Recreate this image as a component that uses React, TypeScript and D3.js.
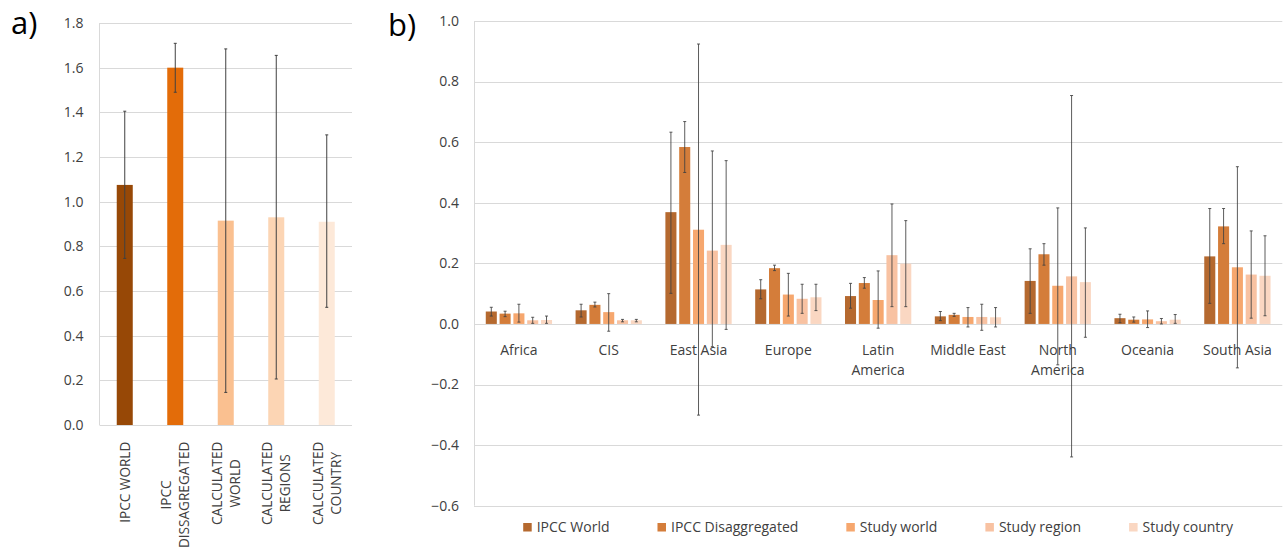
import { useRef, useEffect } from 'react';
import * as d3 from 'd3';

// panel a) global values
const aCategories = ['IPCC WORLD', 'IPCC DISSAGREGATED', 'CALCULATED WORLD', 'CALCULATED REGIONS', 'CALCULATED COUNTRY'];
const aLabelLines = [['IPCC WORLD'], ['IPCC', 'DISSAGREGATED'], ['CALCULATED', 'WORLD'], ['CALCULATED', 'REGIONS'], ['CALCULATED', 'COUNTRY']];
const aValues = [1.075, 1.6, 0.915, 0.93, 0.91];
const aLow = [0.746, 1.49, 0.146, 0.206, 0.527];
const aHigh = [1.405, 1.709, 1.684, 1.655, 1.299];
const aColors = ['#974806', '#E36C09', '#FAC090', '#FCD5B4', '#FDE9D9'];
const aTicks = [0, 0.2, 0.4, 0.6, 0.8, 1.0, 1.2, 1.4, 1.6, 1.8];

// panel b) by region
const regions = ['Africa', 'CIS', 'East Asia', 'Europe', 'Latin America', 'Middle East', 'North America', 'Oceania', 'South Asia'];
const regionLines = [['Africa'], ['CIS'], ['East Asia'], ['Europe'], ['Latin', 'America'], ['Middle East'], ['North', 'America'], ['Oceania'], ['South Asia']];
const seriesNames = ['IPCC World', 'IPCC Disaggregated', 'Study world', 'Study region', 'Study country'];
const seriesColors = ['#B5692F', '#D47D3A', '#F6A76E', '#F8C2A2', '#FAD7C2'];

const ipccWorld = [0.041, 0.045, 0.369, 0.114, 0.092, 0.025, 0.142, 0.019, 0.223];
const ipccWorldLow = [0.026, 0.023, 0.101, 0.083, 0.052, 0.011, 0.035, 0.004, 0.068];
const ipccWorldHigh = [0.055, 0.065, 0.633, 0.146, 0.134, 0.041, 0.248, 0.032, 0.381];

const ipccDisagg = [0.034, 0.063, 0.584, 0.184, 0.135, 0.03, 0.23, 0.014, 0.322];
const ipccDisaggLow = [0.024, 0.056, 0.5, 0.176, 0.118, 0.025, 0.194, 0.006, 0.265];
const ipccDisaggHigh = [0.042, 0.072, 0.668, 0.194, 0.153, 0.035, 0.265, 0.023, 0.381];

const studyWorld = [0.035, 0.039, 0.311, 0.097, 0.079, 0.023, 0.126, 0.015, 0.187];
const studyWorldLow = [0.006, -0.024, -0.301, 0.026, -0.014, -0.01, -0.135, -0.012, -0.145];
const studyWorldHigh = [0.065, 0.1, 0.924, 0.167, 0.175, 0.054, 0.383, 0.043, 0.519];

const studyRegion = [0.012, 0.012, 0.242, 0.083, 0.227, 0.023, 0.157, 0.009, 0.163];
const studyRegionLow = [0.002, 0.007, -0.075, 0.035, 0.057, -0.021, -0.439, 0.0, 0.019];
const studyRegionHigh = [0.022, 0.015, 0.571, 0.131, 0.396, 0.065, 0.754, 0.018, 0.307];

const studyCountry = [0.013, 0.012, 0.261, 0.088, 0.199, 0.022, 0.138, 0.014, 0.159];
const studyCountryLow = [0.002, 0.007, -0.018, 0.044, 0.057, -0.01, -0.044, 0.002, 0.027];
const studyCountryHigh = [0.026, 0.015, 0.539, 0.131, 0.341, 0.054, 0.317, 0.031, 0.291];

const bTicks = [-0.6, -0.4, -0.2, 0, 0.2, 0.4, 0.6, 0.8, 1.0];

const FONT = '"Open Sans", sans-serif';
const GRID = '#D9D9D9';
const TEXT = '#404040';
const ERR = '#404040';
const FS = 14;

export default function App() {
  const svgRef = useRef<SVGSVGElement | null>(null);

  useEffect(() => {
    if (!svgRef.current) return;
    const svg = d3.select(svgRef.current);
    svg.selectAll('*').remove();

    const crisp = (v: number) => Math.round(v) + 0.5;

    // ---------- panel a ----------
    const yA = d3.scaleLinear().domain([0, 1.8]).range([425, 23]);
    const xA = d3.scaleBand<string>().domain(aCategories).range([99.5, 352])
      .paddingInner(0.683).paddingOuter(0.3415);

    const ga = svg.append('g');
    ga.append('text').attr('x', 11).attr('y', 34).attr('font-size', 31)
      .attr('font-family', FONT).attr('fill', '#000').text('a)');

    ga.selectAll('.grid').data(aTicks).join('line')
      .attr('x1', 99.5).attr('x2', 352)
      .attr('y1', d => crisp(yA(d))).attr('y2', d => crisp(yA(d)))
      .attr('stroke', GRID).attr('stroke-width', 1);
    ga.append('line').attr('x1', 99.5).attr('x2', 99.5).attr('y1', yA(1.8)).attr('y2', yA(0))
      .attr('stroke', GRID);

    ga.selectAll('.tick').data(aTicks).join('text')
      .attr('x', 83.5).attr('y', d => yA(d)).attr('dy', '0.35em')
      .attr('text-anchor', 'end').attr('font-size', FS).attr('font-family', FONT)
      .attr('fill', TEXT).text(d => d3.format('.1f')(d));

    ga.selectAll('.bar').data(aCategories).join('rect')
      .attr('x', d => xA(d)!).attr('width', xA.bandwidth())
      .attr('y', (d, i) => yA(aValues[i])).attr('height', (d, i) => yA(0) - yA(aValues[i]))
      .attr('fill', (d, i) => aColors[i]);

    aCategories.forEach((c, i) => {
      const cx = xA(c)! + xA.bandwidth() / 2;
      ga.append('line').attr('x1', cx).attr('x2', cx)
        .attr('y1', yA(aLow[i])).attr('y2', yA(aHigh[i]))
        .attr('stroke', ERR).attr('stroke-width', 1);
      [aLow[i], aHigh[i]].forEach(v => {
        ga.append('line').attr('x1', cx - 1.5).attr('x2', cx + 1.5)
          .attr('y1', yA(v)).attr('y2', yA(v)).attr('stroke', ERR).attr('stroke-width', 1);
      });

      // rotated category label, top aligned at the longest line
      const lines = aLabelLines[i];
      const lg = ga.append('g').attr('transform', `translate(${cx},0) rotate(-90)`);
      const texts = lines.map((ln, j) => lg.append('text')
        .attr('x', 0).attr('y', (j - (lines.length - 1) / 2) * 18)
        .attr('dy', '0.35em').attr('text-anchor', 'middle')
        .attr('font-size', 13.6).attr('font-family', FONT).attr('fill', TEXT).text(ln));
      const maxLen = d3.max(texts, t => (t.node() as SVGTextElement).getComputedTextLength()) || 0;
      const centerY = 441.7 + maxLen / 2;
      texts.forEach(t => t.attr('x', -centerY));
    });

    // ---------- panel b ----------
    const yB = d3.scaleLinear().domain([-0.6, 1.0]).range([505.7, 21]);
    const xB = d3.scaleBand<string>().domain(regions).range([474, 1282.3]);
    const groupW = xB.bandwidth() * 0.738;
    const x1 = d3.scaleBand<string>().domain(seriesNames).range([0, groupW]).paddingInner(0.2);
    const off = (xB.bandwidth() - groupW) / 2;

    const gb = svg.append('g');
    gb.append('text').attr('x', 388).attr('y', 36).attr('font-size', 31)
      .attr('font-family', FONT).attr('fill', '#000').text('b)');

    gb.selectAll('.grid').data(bTicks).join('line')
      .attr('x1', 474).attr('x2', 1282.3)
      .attr('y1', d => crisp(yB(d))).attr('y2', d => crisp(yB(d)))
      .attr('stroke', GRID).attr('stroke-width', 1);
    gb.append('line').attr('x1', 474.5).attr('x2', 474.5).attr('y1', yB(1.0)).attr('y2', yB(-0.6))
      .attr('stroke', GRID);

    gb.selectAll('.tick').data(bTicks).join('text')
      .attr('x', 459).attr('y', d => yB(d)).attr('dy', '0.35em')
      .attr('text-anchor', 'end').attr('font-size', FS).attr('font-family', FONT)
      .attr('fill', TEXT).text(d => d3.format('.1f')(d));

    const series = [
      { name: seriesNames[0], v: ipccWorld, lo: ipccWorldLow, hi: ipccWorldHigh },
      { name: seriesNames[1], v: ipccDisagg, lo: ipccDisaggLow, hi: ipccDisaggHigh },
      { name: seriesNames[2], v: studyWorld, lo: studyWorldLow, hi: studyWorldHigh },
      { name: seriesNames[3], v: studyRegion, lo: studyRegionLow, hi: studyRegionHigh },
      { name: seriesNames[4], v: studyCountry, lo: studyCountryLow, hi: studyCountryHigh },
    ];

    series.forEach((s, si) => {
      regions.forEach((r, ri) => {
        const x = xB(r)! + off + x1(s.name)!;
        gb.append('rect').attr('x', x).attr('width', x1.bandwidth())
          .attr('y', yB(s.v[ri])).attr('height', yB(0) - yB(s.v[ri]))
          .attr('fill', seriesColors[si]);
      });
    });

    series.forEach(s => {
      regions.forEach((r, ri) => {
        const cx = xB(r)! + off + x1(s.name)! + x1.bandwidth() / 2;
        gb.append('line').attr('x1', cx).attr('x2', cx)
          .attr('y1', yB(s.lo[ri])).attr('y2', yB(s.hi[ri]))
          .attr('stroke', ERR).attr('stroke-width', 1).attr('opacity', 0.85);
        [s.lo[ri], s.hi[ri]].forEach(v => {
          gb.append('line').attr('x1', cx - 1.5).attr('x2', cx + 1.5)
            .attr('y1', yB(v)).attr('y2', yB(v))
            .attr('stroke', ERR).attr('stroke-width', 1).attr('opacity', 0.85);
        });
      });
    });

    regions.forEach((r, ri) => {
      const cx = xB(r)! + xB.bandwidth() / 2;
      regionLines[ri].forEach((ln, j) => {
        gb.append('text').attr('x', cx).attr('y', 355 + j * 19.5)
          .attr('text-anchor', 'middle').attr('font-size', FS).attr('font-family', FONT)
          .attr('fill', TEXT).text(ln);
      });
    });

    // legend, centred under the plot
    const lg = gb.append('g');
    const items = seriesNames.map((n, i) => {
      const t = lg.append('text').attr('y', 531.5).attr('font-size', FS)
        .attr('font-family', FONT).attr('fill', TEXT).text(n);
      const r = lg.append('rect').attr('y', 523).attr('width', 8.5).attr('height', 8.5)
        .attr('fill', seriesColors[i]);
      return { t, r, w: (t.node() as SVGTextElement).getComputedTextLength() };
    });
    const gap = 48;
    const total = d3.sum(items, d => 13.5 + d.w) + gap * (items.length - 1);
    let lx = (474 + 1282.3) / 2 - total / 2;
    items.forEach(it => {
      it.r.attr('x', lx);
      it.t.attr('x', lx + 13.5);
      lx += 13.5 + it.w + gap;
    });
  }, []);

  return (
    <svg ref={svgRef} width={1287} height={549}
      style={{ position: 'absolute', left: 0, top: 0, background: '#fff' }} />
  );
}
